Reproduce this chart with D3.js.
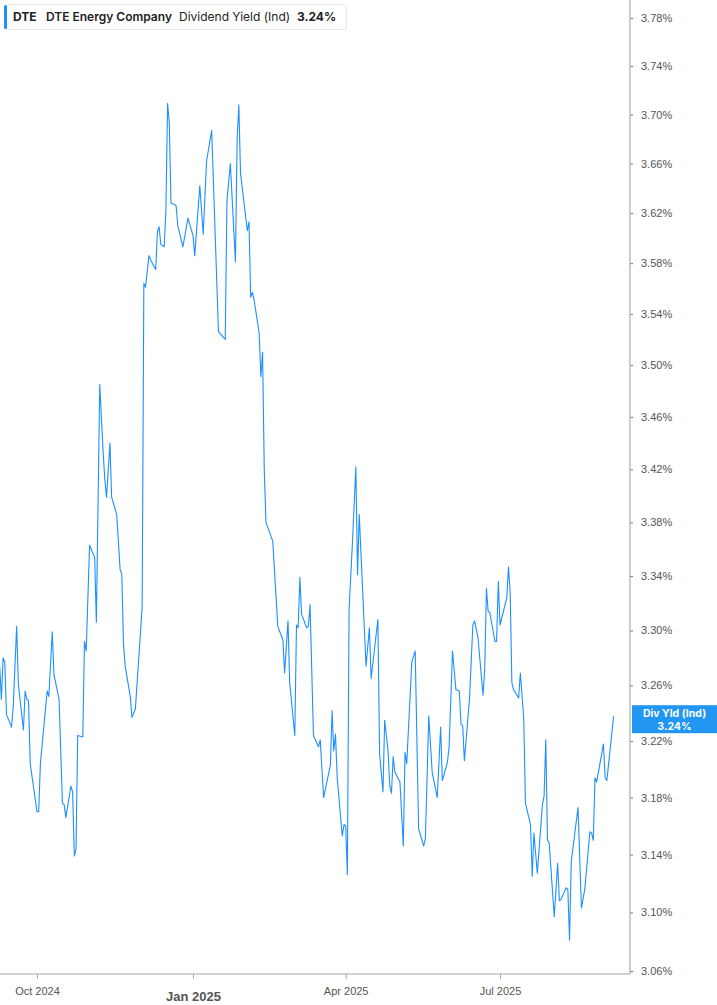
<!DOCTYPE html>
<html lang="en">
<head>
    <meta charset="UTF-8">
    <script src="https://d3js.org/d3.v7.min.js"></script>
    <style>
        body {
            margin: 0;
            background: #fff;
            font-family: Inter, "Noto Sans", Arial, sans-serif;
        }
        .ytick text {
            font-size: 11px;
            fill: #555;
        }
        .xtick text {
            font-size: 11px;
            fill: #555;
        }
    </style>
</head>
<body>
    <div id="chart"></div>

    <script>
        // DTE dividend yield (indicated), %
        const dates = [
            "2024-09-09","2024-09-10","2024-09-11","2024-09-12","2024-09-13","2024-09-16","2024-09-17","2024-09-19","2024-09-20","2024-09-23",
            "2024-09-24","2024-09-25","2024-09-26","2024-09-27","2024-10-01","2024-10-02","2024-10-03","2024-10-07","2024-10-08","2024-10-10",
            "2024-10-11","2024-10-14","2024-10-16","2024-10-17","2024-10-18","2024-10-21","2024-10-22","2024-10-23","2024-10-24","2024-10-25",
            "2024-10-28","2024-10-29","2024-10-30","2024-11-01","2024-11-04","2024-11-05","2024-11-07","2024-11-09","2024-11-10","2024-11-11",
            "2024-11-13","2024-11-14","2024-11-17","2024-11-19","2024-11-20","2024-11-21","2024-11-22","2024-11-25","2024-11-26","2024-11-28",
            "2024-12-02","2024-12-03","2024-12-04","2024-12-06","2024-12-08","2024-12-10","2024-12-11","2024-12-12","2024-12-13","2024-12-15",
            "2024-12-16","2024-12-17","2024-12-18","2024-12-19","2024-12-22","2024-12-23","2024-12-26","2024-12-29","2025-01-01","2025-01-02",
            "2025-01-05","2025-01-07","2025-01-09","2025-01-12","2025-01-16","2025-01-20","2025-01-21","2025-01-23","2025-01-26","2025-01-27",
            "2025-01-28","2025-01-29","2025-02-02","2025-02-03","2025-02-04","2025-02-05","2025-02-06","2025-02-09","2025-02-10","2025-02-11",
            "2025-02-12","2025-02-13","2025-02-17","2025-02-20","2025-02-23","2025-02-24","2025-02-26","2025-02-27","2025-03-02","2025-03-03",
            "2025-03-04","2025-03-05","2025-03-06","2025-03-09","2025-03-10","2025-03-11","2025-03-13","2025-03-16","2025-03-17","2025-03-19",
            "2025-03-23","2025-03-24","2025-03-25","2025-03-26","2025-03-27","2025-03-30","2025-03-31","2025-04-01","2025-04-02","2025-04-03",
            "2025-04-05","2025-04-07","2025-04-08","2025-04-09","2025-04-13","2025-04-15","2025-04-16","2025-04-20","2025-04-21","2025-04-23",
            "2025-04-24","2025-04-26","2025-04-27","2025-04-28","2025-04-29","2025-04-30","2025-05-03","2025-05-05","2025-05-06","2025-05-07",
            "2025-05-10","2025-05-12","2025-05-14","2025-05-17","2025-05-18","2025-05-20","2025-05-22","2025-05-25","2025-05-27","2025-05-28",
            "2025-05-31","2025-06-01","2025-06-03","2025-06-05","2025-06-07","2025-06-08","2025-06-09","2025-06-10","2025-06-13","2025-06-15",
            "2025-06-16","2025-06-18","2025-06-21","2025-06-22","2025-06-23","2025-06-24","2025-06-25","2025-06-28","2025-06-29","2025-06-30",
            "2025-07-01","2025-07-05","2025-07-06","2025-07-07","2025-07-08","2025-07-09","2025-07-12","2025-07-13","2025-07-15","2025-07-16",
            "2025-07-19","2025-07-20","2025-07-21","2025-07-23","2025-07-26","2025-07-27","2025-07-28","2025-07-29","2025-07-30","2025-08-02",
            "2025-08-04","2025-08-05","2025-08-06","2025-08-09","2025-08-10","2025-08-11","2025-08-12","2025-08-16","2025-08-18","2025-08-20",
            "2025-08-23","2025-08-24","2025-08-25","2025-08-26","2025-08-27","2025-08-31","2025-09-01","2025-09-02","2025-09-06"
        ];
        const yields = [
            3.274,3.250,3.280,3.277,3.239,3.230,3.245,3.303,3.261,3.228,
            3.256,3.250,3.249,3.204,3.170,3.170,3.204,3.256,3.252,3.299,
            3.268,3.250,3.176,3.175,3.166,3.188,3.184,3.139,3.144,3.224,
            3.223,3.292,3.285,3.363,3.354,3.306,3.485,3.433,3.412,3.399,
            3.440,3.399,3.386,3.345,3.341,3.290,3.274,3.252,3.237,3.243,
            3.317,3.564,3.561,3.586,3.580,3.575,3.605,3.609,3.595,3.593,
            3.622,3.709,3.693,3.628,3.626,3.610,3.593,3.616,3.602,3.586,
            3.642,3.603,3.662,3.687,3.526,3.520,3.630,3.660,3.581,3.679,
            3.708,3.652,3.606,3.613,3.553,3.557,3.551,3.525,3.491,3.510,
            3.420,3.380,3.366,3.303,3.293,3.269,3.307,3.262,3.224,3.304,
            3.302,3.339,3.312,3.302,3.303,3.319,3.224,3.216,3.221,3.180,
            3.203,3.242,3.213,3.225,3.194,3.153,3.161,3.160,3.126,3.315,
            3.365,3.422,3.341,3.386,3.274,3.302,3.265,3.308,3.211,3.184,
            3.235,3.213,3.188,3.183,3.209,3.198,3.191,3.146,3.212,3.204,
            3.277,3.285,3.158,3.146,3.151,3.238,3.198,3.180,3.230,3.192,
            3.205,3.216,3.285,3.257,3.256,3.232,3.231,3.206,3.250,3.304,
            3.307,3.295,3.253,3.272,3.331,3.314,3.313,3.292,3.292,3.336,
            3.304,3.324,3.347,3.328,3.262,3.257,3.251,3.269,3.236,3.176,
            3.161,3.125,3.155,3.127,3.175,3.181,3.221,3.150,3.148,3.097,
            3.134,3.108,3.109,3.117,3.116,3.081,3.135,3.173,3.103,3.116,
            3.156,3.155,3.150,3.194,3.191,3.218,3.194,3.192,3.238
        ];
        const yTicks = [3.06, 3.10, 3.14, 3.18, 3.22, 3.26, 3.30, 3.34, 3.38, 3.42,
                        3.46, 3.50, 3.54, 3.58, 3.62, 3.66, 3.70, 3.74, 3.78];
        const xTicks = ["2024-10-01", "2025-01-01", "2025-04-01", "2025-07-01"];
        const xTickLabels = ["Oct 2024", "Jan 2025", "Apr 2025", "Jul 2025"];
        const lastValue = 3.24;

        const W = 717, H = 1005;
        const plotRight = 630, plotBottom = 974;
        const blue = "#1e8fff";

        const svg = d3.select("#chart")
            .append("svg")
            .attr("width", W)
            .attr("height", H);

        const parse = d3.timeParse("%Y-%m-%d");
        const data = dates.map((d, i) => ({date: parse(d), value: yields[i]}));

        const x = d3.scaleTime()
            .domain([parse("2024-10-01"), parse("2025-07-01")])
            .range([37, 500]);

        const y = d3.scaleLog()
            .domain([3.06, 3.78])
            .range([971, 18]);

        // line
        svg.append("path")
            .datum(data)
            .attr("fill", "none")
            .attr("stroke", blue)
            .attr("stroke-width", 1.1)
            .attr("stroke-linejoin", "round")
            .attr("d", d3.line().x(d => x(d.date)).y(d => y(d.value)));

        // right axis
        const yAxis = svg.append("g")
            .attr("class", "ytick")
            .attr("transform", `translate(${plotRight},0)`)
            .call(d3.axisRight(y)
                .tickValues(yTicks)
                .tickSize(3)
                .tickPadding(8)
                .tickFormat(d => d.toFixed(2) + "%"));
        yAxis.select(".domain").remove();
        yAxis.selectAll(".tick line").attr("stroke", "#777");
        svg.append("line")
            .attr("x1", plotRight).attr("x2", plotRight)
            .attr("y1", 0).attr("y2", plotBottom)
            .attr("stroke", "#aaa").attr("stroke-width", 1.2);

        // bottom axis
        const xAxis = svg.append("g")
            .attr("class", "xtick")
            .attr("transform", `translate(0,${plotBottom})`)
            .call(d3.axisBottom(x)
                .tickValues(xTicks.map(parse))
                .tickSize(5)
                .tickPadding(8)
                .tickFormat((d, i) => xTickLabels[i]));
        xAxis.select(".domain").remove();
        xAxis.selectAll(".tick line").attr("stroke", "#aaa");
        xAxis.selectAll(".tick text")
            .filter((d, i) => i === 1)
            .style("font-size", "13px")
            .style("font-weight", "bold")
            .attr("dy", "1.05em");
        svg.append("line")
            .attr("x1", 0).attr("x2", plotRight)
            .attr("y1", plotBottom).attr("y2", plotBottom)
            .attr("stroke", "#aaa").attr("stroke-width", 1.2);

        // last value tag on the axis
        const tagY = y(lastValue);
        svg.append("rect")
            .attr("x", plotRight + 2).attr("y", tagY - 8)
            .attr("width", W - plotRight - 2).attr("height", 28)
            .attr("fill", "#2196f3");
        svg.append("text")
            .attr("x", (plotRight + W) / 2 + 1).attr("y", tagY + 4)
            .attr("text-anchor", "middle")
            .style("font-size", "10.5px").style("font-weight", "bold").style("fill", "#fff")
            .text("Div Yld (Ind)");
        svg.append("text")
            .attr("x", (plotRight + W) / 2 + 1).attr("y", tagY + 17)
            .attr("text-anchor", "middle")
            .style("font-size", "10.5px").style("font-weight", "bold").style("fill", "#fff")
            .text(lastValue.toFixed(2) + "%");

        // legend box
        const legend = svg.append("g");
        legend.append("rect")
            .attr("x", 4.5).attr("y", 4.5)
            .attr("width", 342).attr("height", 25)
            .attr("rx", 3)
            .attr("fill", "#fff").attr("stroke", "#e6e6e6");
        legend.append("rect")
            .attr("x", 4).attr("y", 5)
            .attr("width", 3).attr("height", 24)
            .attr("rx", 1.5)
            .attr("fill", blue);
        const legendText = legend.append("text")
            .attr("y", 21)
            .style("font-size", "12px")
            .style("fill", "#222");
        legendText.append("tspan").attr("x", 13).style("font-weight", "bold").text("DTE");
        legendText.append("tspan").attr("x", 46).style("font-weight", "600").text("DTE Energy Company");
        legendText.append("tspan").attr("x", 179).text("Dividend Yield (Ind)");
        legendText.append("tspan").attr("x", 297).style("font-weight", "bold").text(lastValue.toFixed(2) + "%");
    </script>
</body>
</html>
